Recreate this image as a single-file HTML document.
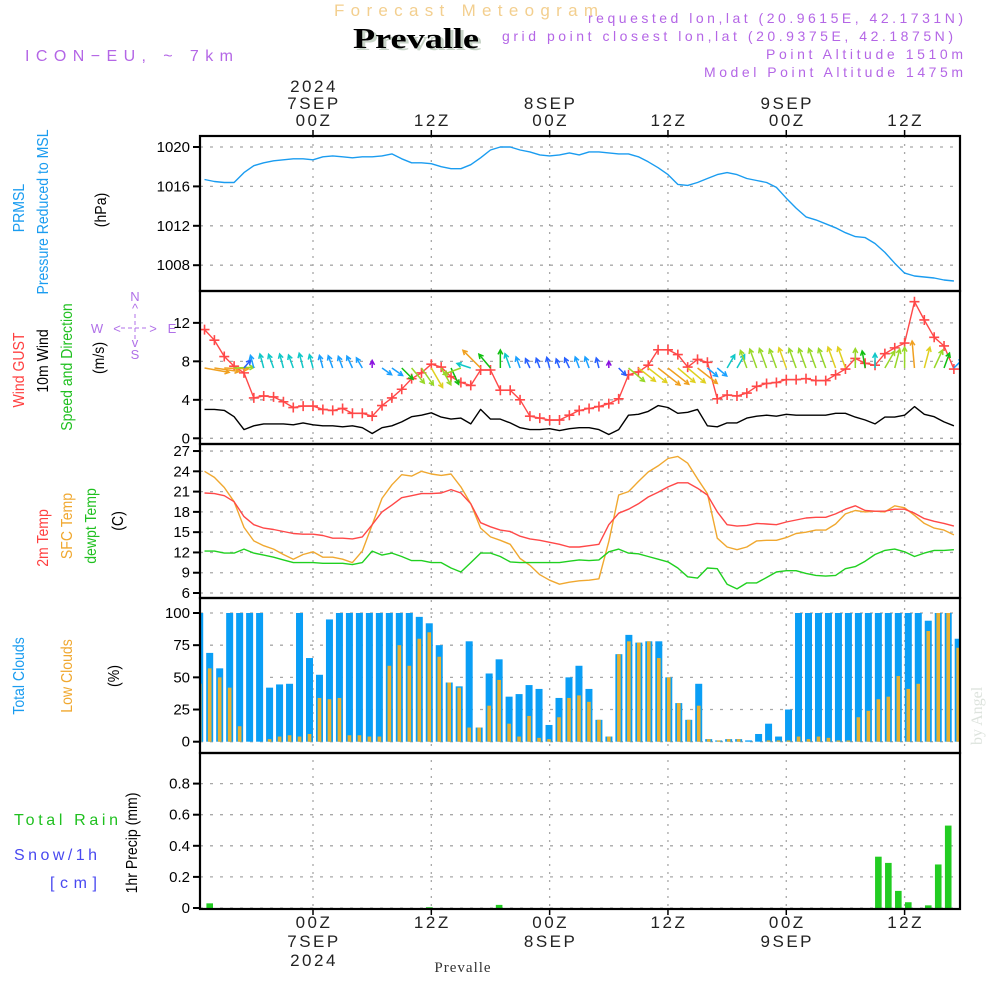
<!DOCTYPE html>
<html><head><meta charset="utf-8"><title>Meteogram Prevalle</title>
<style>
html,body{margin:0;padding:0;background:#fff;}
svg{display:block;font-family:"Liberation Sans",sans-serif;}
</style></head>
<body>
<svg id="chart" width="1000" height="1000" viewBox="0 0 1000 1000" xmlns="http://www.w3.org/2000/svg">
<rect x="0" y="0" width="1000" height="1000" fill="#fff"/>
<text x="334" y="16" font-size="17" fill="#f3cf8f" textLength="264" lengthAdjust="spacing">Forecast Meteogram</text>
<text x="356" y="50" font-size="28" font-weight="bold" font-family="Liberation Serif,serif" fill="#c8d4c8" textLength="126" lengthAdjust="spacingAndGlyphs">Prevalle</text>
<text x="353" y="48" font-size="28" font-weight="bold" font-family="Liberation Serif,serif" fill="#000" textLength="126" lengthAdjust="spacingAndGlyphs">Prevalle</text>
<text x="25" y="61" font-size="16" fill="#b466e6" textLength="208" lengthAdjust="spacing">ICON−EU, ~ 7km</text>
<text x="588" y="23" font-size="14" fill="#b466e6" textLength="375" lengthAdjust="spacing">requested lon,lat (20.9615E, 42.1731N)</text>
<text x="502" y="41" font-size="14" fill="#b466e6" textLength="451" lengthAdjust="spacing">grid point closest lon,lat (20.9375E, 42.1875N)</text>
<text x="766" y="59" font-size="14" fill="#b466e6" textLength="197" lengthAdjust="spacing">Point Altitude 1510m</text>
<text x="704" y="77" font-size="14" fill="#b466e6" textLength="259" lengthAdjust="spacing">Model Point Altitude 1475m</text>
<text x="463" y="972" font-size="15" font-family="Liberation Serif,serif" fill="#333" text-anchor="middle" letter-spacing="1">Prevalle</text>
<text x="0" y="0" font-size="16" font-family="Liberation Serif,serif" fill="#dde3dd" transform="translate(982,745) rotate(-90)">by Angel</text>
<g id="labels"></g>
<g id="grid"></g>
<g id="marks"></g>
<g id="frame"></g>
</svg>
<script>
// ---------- data (hours from 00Z 7SEP, h = -11 .. 65) ----------
const hourStart = -11;
const pressure = [1016.7,1016.5,1016.4,1016.4,1017.4,1018.1,1018.4,1018.6,1018.7,1018.8,1018.8,
 1018.7,1019.0,1019.1,1019.0,1018.9,1019.0,1019.0,1019.1,1019.3,1018.8,1018.4,1018.4,1018.3,1018.0,1017.8,1017.8,1018.2,1018.9,1019.7,1020.0,
 1020.0,1019.7,1019.5,1019.2,1019.1,1019.2,1019.4,1019.2,1019.5,1019.5,1019.4,1019.3,1019.3,1019.0,1018.5,1017.9,1017.2,1016.2,1016.1,1016.4,
 1016.8,1017.2,1017.4,1017.2,1016.8,1016.6,1016.4,1015.9,1014.8,1013.8,1012.9,1012.6,1012.2,1011.8,1011.3,1010.9,1010.8,1010.2,1009.3,1008.2,
 1007.2,1006.9,1006.8,1006.7,1006.5,1006.4];
const gust = [11.3,10.2,8.5,7.5,6.8,4.2,4.4,4.3,3.8,3.2,3.35,3.35,3.0,2.9,3.1,2.6,2.6,2.3,3.4,4.2,
 5.1,6.2,6.8,7.7,7.4,6.4,5.8,5.5,7.1,7.1,5.0,5.0,4.0,2.3,2.1,1.9,1.9,2.4,2.9,
 3.1,3.3,3.6,4.1,6.6,6.9,7.6,9.2,9.2,8.7,7.4,8.2,7.9,4.1,4.5,4.4,4.7,5.4,5.7,5.8,
 6.1,6.1,6.2,6.0,6.0,6.6,7.2,8.3,7.8,7.6,8.8,9.4,9.9,14.2,12.3,10.5,9.6,7.2];
const wind10 = [3.0,3.0,2.9,2.25,0.9,1.3,1.5,1.5,1.5,1.4,1.6,1.4,1.3,1.3,1.2,1.3,1.1,0.5,1.1,1.3,
 1.7,2.25,2.4,2.65,2.2,2.0,2.1,1.5,3.0,2.0,2.0,1.6,1.1,0.9,0.9,1.0,0.8,1.0,1.1,
 1.1,0.9,0.4,0.9,2.4,2.5,2.8,3.4,3.2,2.6,2.7,3.0,1.3,1.2,1.6,1.6,2.1,2.3,2.4,2.3,
 2.5,2.4,2.4,2.4,2.4,2.6,2.6,2.2,1.9,1.5,2.2,2.2,2.4,3.3,2.5,2.25,1.7,1.3];
const windDir = [100,98,92,88,40,-15,-15,-20,-15,-20,-15,
 -15,-15,-20,-20,-25,-30,0,125,125,135,
 140,145,150,150,155,-110,-72,-45,-40,0,
 -20,-20,-25,-20,-15,-20,-25,-20,-20,-15,
 0,135,130,128,128,128,128,130,130,128,
 130,130,30,30,-20,-20,-20,-20,-20,-20,
 -20,-20,-20,-20,-20,0,-10,0,30,15,
 0,-5,15,25,20,45];
const temp2m = [20.8,20.7,20.4,19.5,17.3,16.1,15.6,15.4,15.1,14.8,14.7,14.7,14.5,14.1,14.1,14.0,14.3,16.1,18.0,19.0,
 20.1,20.4,20.7,20.7,20.8,21.3,20.8,19.2,16.4,15.8,15.3,15.1,14.4,14.0,13.8,13.5,13.2,12.8,12.8,
 13.0,13.2,16.1,17.8,18.4,19.2,20.2,20.9,21.7,22.3,22.3,21.5,20.5,18.0,16.1,15.9,16.0,16.3,16.2,16.1,
 16.5,16.8,17.1,17.2,17.2,17.7,18.4,18.9,18.2,18.1,18.1,18.4,18.4,17.8,17.0,16.6,16.3,15.9];
const tempSfc = [24.0,23.1,21.6,19.5,15.7,13.7,13.0,12.5,11.7,11.0,11.7,12.1,11.3,11.3,11.0,10.5,12.2,16.1,20.0,22.0,
 23.5,23.3,24.0,23.6,23.4,23.6,21.7,19.2,15.6,14.3,13.8,13.2,11.1,10.1,8.7,7.9,7.3,7.6,7.8,
 7.9,8.1,13.6,20.5,21.0,22.5,23.9,24.8,25.9,26.2,25.2,22.9,20.7,14.1,12.8,12.4,12.8,13.7,13.8,13.8,
 14.2,14.8,15.0,15.3,15.3,16.2,17.7,18.2,18.0,18.1,18.0,18.9,18.6,17.5,16.3,15.6,15.3,14.6];
const dewpt = [12.2,12.2,11.9,11.9,12.5,11.9,11.6,11.3,10.9,10.5,10.5,10.5,10.4,10.4,10.4,10.2,10.5,12.2,11.6,11.9,
 11.4,10.8,10.8,10.5,10.5,9.7,9.1,10.5,11.9,11.9,11.4,10.6,10.5,10.5,10.5,10.5,10.5,10.7,10.9,
 10.8,10.9,12.1,12.5,11.9,11.8,11.4,11.0,10.6,9.7,8.4,8.2,9.7,9.6,7.3,6.6,7.5,7.5,8.3,9.1,
 9.3,9.3,8.9,8.6,8.5,8.6,9.6,9.9,10.7,11.7,12.3,12.5,12.1,11.4,11.9,12.3,12.3,12.4];
const totalClouds = [100,69,57,100,100,100,100,42,44.5,45,100,
 65,52,95,100,100,100,100,100,100,100,
 100,97,92,75,46,43,78,11,53,64,
 35,37,44,41,13,34,50,59,
 41,17,4,68,83,77,78,78,50,30,
 17,45,2,1,2,2,1,6,14,4,
 25,100,100,100,100,100,100,100,100,100,
 100,100,100,100,94,100,100,80];
const lowClouds = [45,57,50,42,12,0,0,2,4,5,4,
 6,34,33,34,5,5,4,4,59,75,
 59,80,85,66,46,42,11,11,28,48,
 14,4,20,3,2,19,34,36,
 31,17,4,68,78,77,78,65,50,30,
 17,28,2,1,2,2,0,0,1,1,
 1,4,2,4,3,1,1,19,24,33,
 35,51,41,45,86,100,100,73];
const precip = [0,0.03,0,0,0,0,0,0,0,0,0,
 0,0,0,0,0,0,0,0,0,0,
 0,0,0.005,0,0,0,0,0,0,0.02,
 0,0,0,0,0,0,0,0,0,0,
 0,0,0,0,0,0,0,0,0,0,
 0,0,0,0,0,0,0,0,0,0,
 0,0,0,0,0,0,0,0.33,0.29,0.11,
 0.037,0,0.017,0.28,0.53,0,0];
const pTicks = [1008,1012,1016,1020];
const wTicks = [0,4,8,12];
const tTicks = [6,9,12,15,18,21,24,27];
const cTicks = [0,25,50,75,100];
const rTicks = [0,0.2,0.4,0.6,0.8];
const timeTicksH = [0,12,24,36,48,60];
const timeTopLabels = [["2024","7SEP","00Z"],["12Z"],["8SEP","00Z"],["12Z"],["9SEP","00Z"],["12Z"]];
const timeBottomLabels = [["00Z","7SEP","2024"],["12Z"],["00Z","8SEP"],["12Z"],["00Z","9SEP"],["12Z"]];

// ---------- scales ----------
const X0 = 200, X1 = 960;
const xg = h => 313 + h * 9.86;
const xb = h => 309.5 + h * 9.98;
const yP = p => 147 + (1020 - p) * 9.85;
const yW = v => 438.3 - v * 9.62;
const yT = t => 593 - (t - 6) * 6.76;
const yC = c => 741.7 - c * 1.287;
const yR = r => 908 - r * 155.5;
const panels = [[136,291],[291,444],[444,598],[598,753],[753,909]];

const NS = "http://www.w3.org/2000/svg";
function mk(tag, attrs, parent) {
  const el = document.createElementNS(NS, tag);
  for (const k in attrs) el.setAttribute(k, attrs[k]);
  parent.appendChild(el);
  return el;
}
const svg = document.getElementById('chart');
const gGrid = document.getElementById('grid');
const gMarks = document.getElementById('marks');
const gFrame = document.getElementById('frame');
const gLab = document.getElementById('labels');

const defs = mk('defs', {}, svg);
const cp = mk('clipPath', {id: 'plotclip'}, defs);
mk('rect', {x: X0, y: 136, width: X1 - X0, height: 773}, cp);
gMarks.setAttribute('clip-path', 'url(#plotclip)');

// ---------- grid ----------
function hGrid(yv, name) {
  const l = mk('line', {x1: X0, x2: X1, y1: yv, y2: yv, stroke: '#a8a8a8', 'stroke-width': 1.3, 'stroke-dasharray': '3,7'}, gGrid);
  
  
}
pTicks.forEach(v => hGrid(yP(v), 'pressure-gridline'));
wTicks.forEach(v => hGrid(yW(v), 'wind-gridline'));
tTicks.forEach(v => hGrid(yT(v), 'temp-gridline'));
cTicks.forEach(v => hGrid(yC(v), 'cloud-gridline'));
rTicks.forEach(v => hGrid(yR(v), 'precip-gridline'));
timeTicksH.forEach(h => {
  const l = mk('line', {x1: xg(h), x2: xg(h), y1: 136, y2: 909, stroke: '#a8a8a8', 'stroke-width': 1.3, 'stroke-dasharray': '2,6'}, gGrid);
  
  
});

// ---------- tick labels ----------
function yLabel(txt, yv, name) {
  const t = mk('text', {x: 190, y: yv + 5, 'font-size': 15, 'text-anchor': 'end', fill: '#000'}, gLab);
  t.textContent = txt;
  
  
  const tk = mk('line', {x1: 193, x2: 200, y1: yv, y2: yv, stroke: '#000', 'stroke-width': 2}, gFrame);
  
  
}
pTicks.forEach(v => yLabel(String(v), yP(v), 'pressure-tick-label'));
wTicks.forEach(v => yLabel(String(v), yW(v), 'wind-tick-label'));
tTicks.forEach(v => yLabel(String(v), yT(v), 'temp-tick-label'));
cTicks.forEach(v => yLabel(String(v), yC(v), 'cloud-tick-label'));
rTicks.forEach(v => yLabel(String(v), yR(v), 'precip-tick-label'));

timeTicksH.forEach((h, i) => {
  const top = timeTopLabels[i];
  top.forEach((s, j) => {
    const t = mk('text', {x: xg(h) + 1, y: 126 - (top.length - 1 - j) * 17, 'font-size': 17, 'text-anchor': 'middle', fill: '#222', 'letter-spacing': 2.5}, gLab);
    t.textContent = s;
    
    
  });
  const bot = timeBottomLabels[i];
  bot.forEach((s, j) => {
    const t = mk('text', {x: xg(h) + 1, y: 928 + j * 19, 'font-size': 17, 'text-anchor': 'middle', fill: '#222', 'letter-spacing': 2.5}, gLab);
    t.textContent = s;
    
    
  });
  const t1 = mk('line', {x1: xg(h), x2: xg(h), y1: 130, y2: 136, stroke: '#000', 'stroke-width': 1.5}, gFrame);
  
  
  const t2 = mk('line', {x1: xg(h), x2: xg(h), y1: 909, y2: 915, stroke: '#000', 'stroke-width': 1.5}, gFrame);
  
  
});

// ---------- axis titles ----------
function vText(txt, x, cy, color, name, size) {
  const t = mk('text', {x: 0, y: 0, 'font-size': size || 16, fill: color, 'text-anchor': 'middle', transform: `translate(${x},${cy}) rotate(-90) scale(0.88,1)`}, gLab);
  t.textContent = txt;
  
  
}
vText('PRMSL', 24, 208, '#1a9cf0', 'prmsl-title');
vText('Pressure Reduced to MSL', 48, 212, '#1a9cf0', 'pressure-title');
vText('(hPa)', 106, 210, '#000', 'pressure-unit');
vText('Wind GUST', 24, 370, '#ff4040', 'gust-title');
vText('10m Wind', 48, 361, '#000', 'wind-title');
vText('Speed and Direction', 72, 367, '#20c020', 'wind-subtitle');
vText('(m/s)', 104, 358, '#000', 'wind-unit');
vText('2m Temp', 48, 538, '#ff4040', 'temp2m-title');
vText('SFC Temp', 72, 526, '#f0a830', 'sfctemp-title');
vText('dewpt Temp', 96, 526, '#20c020', 'dewpt-title');
vText('(C)', 123, 521, '#000', 'temp-unit');
vText('Total Clouds', 24, 676, '#1a9cf0', 'total-clouds-title');
vText('Low Clouds', 72, 676, '#f0a830', 'low-clouds-title');
vText('(%)', 119, 676, '#000', 'cloud-unit');
vText('1hr Precip (mm)', 137, 843, '#000', 'precip-title');
[['Total  Rain', 14, 825, '#20c020', 'rain-label', 104], ['Snow/1h', 14, 860, '#4848f0', 'snow-label', 83], ['[cm]', 50, 888, '#4848f0', 'snow-unit', 47]].forEach(a => {
  const t = mk('text', {x: a[1], y: a[2], 'font-size': 16, fill: a[3], textLength: a[5], lengthAdjust: 'spacing', 'xml:space': 'preserve'}, gLab);
  t.textContent = a[0];
  
  
});
// compass
const gC = mk('g', {fill: '#b070e8', 'font-size': 13, 'text-anchor': 'middle'}, gLab);


[['N', 135, 301], ['W', 97, 333], ['E', 172, 333], ['S', 135, 359], ['<', 117, 333], ['>', 153, 333], ['^', 135, 313], ['v', 135, 347]].forEach(a => {
  const t = mk('text', {x: a[1], y: a[2]}, gC);
  t.textContent = a[0];
});
mk('line', {x1: 121, x2: 149, y1: 328, y2: 328, stroke: '#b070e8', 'stroke-width': 1, 'stroke-dasharray': '4,3'}, gC);
mk('line', {x1: 135, x2: 135, y1: 314, y2: 342, stroke: '#b070e8', 'stroke-width': 1, 'stroke-dasharray': '4,3'}, gC);

// ---------- marks ----------
function polyline(arr, yf, color, name, w) {
  const pts = arr.map((v, i) => xg(hourStart + i).toFixed(1) + ',' + yf(v).toFixed(1)).join(' ');
  const pl = mk('polyline', {points: pts, fill: 'none', stroke: color, 'stroke-width': w || 1.4, 'stroke-linejoin': 'round'}, gMarks);
  
  
}
polyline(pressure, yP, '#1a9cf0', 'pressure-line');
polyline(wind10, yW, '#000', 'wind10-line');
polyline(gust, yW, '#ff4848', 'gust-line');
gust.forEach((v, i) => {
  const x = xg(hourStart + i), y = yW(v);
  const p = mk('path', {d: `M${x - 5},${y}H${x + 5}M${x},${y - 5}V${y + 5}`, stroke: '#ff4848', 'stroke-width': 1.6}, gMarks);
  
  
});
function windColor(s) {
  if (s < 0.7) return '#8a10e0';
  if (s < 1.05) return '#2860ff';
  if (s < 1.35) return '#1aa0ff';
  if (s < 1.7) return '#10c8c8';
  if (s < 2.1) return '#10c010';
  if (s < 2.5) return '#98d828';
  if (s < 2.9) return '#e0d020';
  return '#f0a020';
}
wind10.forEach((s, i) => {
  const x = xg(hourStart + i), y = 368;
  const a = windDir[i] * Math.PI / 180, L = 4 + s * 7;
  const x2 = x + Math.sin(a) * L, y2 = y - Math.cos(a) * L;
  const hl = 5, b1 = a + Math.PI - 0.5, b2 = a + Math.PI + 0.5;
  const d = `M${x},${y}L${x2},${y2}M${x2 + Math.sin(b1) * hl},${y2 - Math.cos(b1) * hl}L${x2},${y2}L${x2 + Math.sin(b2) * hl},${y2 - Math.cos(b2) * hl}`;
  const p = mk('path', {d: d, stroke: windColor(s), 'stroke-width': 1.5, fill: 'none'}, gMarks);
  
  
});
polyline(tempSfc, yT, '#f0a830', 'sfc-temp-line');
polyline(temp2m, yT, '#ff4848', 'temp2m-line');
polyline(dewpt, yT, '#20d020', 'dewpt-line');
totalClouds.forEach((v, i) => {
  const x = xb(hourStart + i);
  const r = mk('rect', {x: x - 3.5, y: yC(v), width: 7, height: yC(0) - yC(v), fill: '#0a9ef5'}, gMarks);
  
  
});
lowClouds.forEach((v, i) => {
  const x = xb(hourStart + i);
  const r = mk('rect', {x: x - 1.8, y: yC(v), width: 3.6, height: yC(0) - yC(v), fill: '#e8b030'}, gMarks);
  
  
});
precip.forEach((v, i) => {
  if (v <= 0) return;
  const x = xb(hourStart + i);
  const r = mk('rect', {x: x - 3.3, y: yR(v), width: 6.6, height: yR(0) - yR(v), fill: '#22cc22'}, gMarks);
  
  
});

// ---------- frame ----------
panels.forEach((p, i) => {
  const r = mk('rect', {x: X0, y: p[0], width: X1 - X0, height: p[1] - p[0], fill: 'none', stroke: '#000', 'stroke-width': 2.2}, gFrame);
  
  
});
</script>
</body></html>
